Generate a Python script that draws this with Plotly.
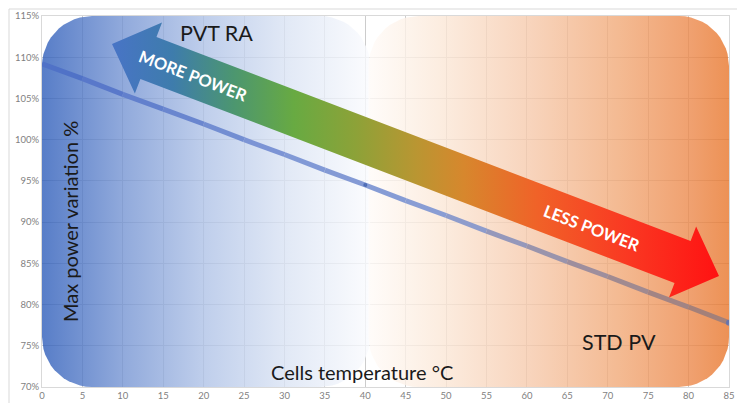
import numpy as np
import plotly.graph_objects as go

# ---------------- data ----------------
temps = [0, 5, 10, 15, 20, 25, 30, 35, 40, 45, 50, 55, 60, 65, 70, 75, 80, 85]
power = [109.2, 107.4, 105.5, 103.7, 101.9, 100.0, 98.2, 96.3, 94.5,
         92.6, 90.8, 88.9, 87.1, 85.2, 83.4, 81.5, 79.7, 77.8]
x_ticks = [0, 5, 10, 15, 20, 25, 30, 35, 40, 45, 50, 55, 60, 65, 70, 75, 80, 85]
y_ticks = [70, 75, 80, 85, 90, 95, 100, 105, 110, 115]
y_tick_labels = ["70%", "75%", "80%", "85%", "90%", "95%", "100%", "105%", "110%", "115%"]
marked_temps = [40, 85]

# ---------------- geometry helpers ----------------
W, H = 737, 403
ML, MR, MT, MB = 42, 8, 16, 16
X0, X1 = 0, 85
Y0, Y1 = 70, 115
PW, PH = W - ML - MR, H - MT - MB
SX = PW / (X1 - X0)
SY = PH / (Y1 - Y0)


def p2d(px, py):
    return X0 + (px - ML) / SX, Y1 - (py - MT) / SY


def rounded_rect(x0, x1, y0, y1, r_px=50, n=14):
    rx, ry = r_px / SX, r_px / SY
    xs, ys = [], []
    corners = [
        (x1 - rx, y0 + ry, -np.pi / 2, 0),      # bottom-right
        (x1 - rx, y1 - ry, 0, np.pi / 2),       # top-right
        (x0 + rx, y1 - ry, np.pi / 2, np.pi),   # top-left
        (x0 + rx, y0 + ry, np.pi, 1.5 * np.pi), # bottom-left
    ]
    for cx, cy, a0, a1 in corners:
        t = np.linspace(a0, a1, n)
        xs += list(cx + rx * np.cos(t))
        ys += list(cy + ry * np.sin(t))
    xs.append(xs[0]); ys.append(ys[0])
    return xs, ys


ALPHA = 0.8


def comp(rgb, a=ALPHA):
    c = [min(255, max(0, round((v - (1 - a) * 255) / a))) for v in rgb]
    return f"rgba({c[0]},{c[1]},{c[2]},{a})"


def lerp_color(stops, t):
    for (t0, c0), (t1, c1) in zip(stops[:-1], stops[1:]):
        if t0 <= t <= t1:
            f = (t - t0) / (t1 - t0) if t1 > t0 else 0
            return tuple(round(a + (b - a) * f) for a, b in zip(c0, c1))
    return stops[-1][1]


fig = go.Figure()

# ---------------- background panels ----------------
lx, ly = rounded_rect(0, 40.6, Y0, Y1)
fig.add_trace(go.Scatter(
    x=lx, y=ly, mode="lines", line=dict(width=0), fill="toself",
    fillgradient=dict(type="horizontal", colorscale=[
        [0.0, comp((88, 125, 200))],
        [0.25, comp((145, 170, 220))],
        [0.5, comp((192, 207, 236))],
        [0.75, comp((226, 233, 246))],
        [1.0, comp((251, 252, 254))],
    ]),
    hoverinfo="skip", showlegend=False))

rx_, ry_ = rounded_rect(40.4, 85, Y0, Y1)
fig.add_trace(go.Scatter(
    x=rx_, y=ry_, mode="lines", line=dict(width=0), fill="toself",
    fillgradient=dict(type="horizontal", colorscale=[
        [0.0, comp((255, 252, 249))],
        [0.2, comp((252, 237, 224))],
        [0.45, comp((248, 212, 188))],
        [0.7, comp((244, 185, 145))],
        [0.9, comp((240, 160, 110))],
        [1.0, comp((237, 145, 85))],
    ]),
    hoverinfo="skip", showlegend=False))

# ---------------- data line (colour shifts as in the overlayed original) ----------------
line_stops = [(0, (76, 110, 198)), (30, (128, 152, 214)), (50, (138, 158, 212)),
              (58, (150, 152, 185)), (70, (160, 140, 150)), (85, (165, 125, 115))]
for i in range(len(temps) - 1):
    tm = (temps[i] + temps[i + 1]) / 2
    c = lerp_color(line_stops, tm)
    fig.add_trace(go.Scatter(
        x=temps[i:i + 2], y=power[i:i + 2], mode="lines",
        line=dict(color=f"rgb{c}", width=5),
        hoverinfo="skip", showlegend=False))

fig.add_trace(go.Scatter(
    x=marked_temps, y=[power[temps.index(t)] for t in marked_temps],
    mode="markers", marker=dict(size=[4, 6], color=["#3559a8", "#4a6fc4"], line=dict(width=0)),
    showlegend=False, hoverinfo="skip"))

# ---------------- big gradient arrow ----------------
L = np.array([112.0, 44.0])
R = np.array([719.0, 276.0])
u = (R - L) / np.linalg.norm(R - L)
n = np.array([-u[1], u[0]])
hw, bw, hl = 22.5, 38.0, 39.0
pts = [
    L,
    L + hl * u - bw * n,
    L + hl * u - hw * n,
    R - hl * u - hw * n,
    R - hl * u - bw * n,
    R,
    R - hl * u + bw * n,
    R - hl * u + hw * n,
    L + hl * u + hw * n,
    L + hl * u + bw * n,
    L,
]
ax_ = [p2d(*p)[0] for p in pts]
ay_ = [p2d(*p)[1] for p in pts]
fig.add_trace(go.Scatter(
    x=ax_, y=ay_, mode="lines", line=dict(width=0), fill="toself",
    fillgradient=dict(type="horizontal", colorscale=[
        [0.0, "rgb(72,116,198)"],
        [0.1, "rgb(62,124,172)"],
        [0.2, "rgb(76,150,112)"],
        [0.3, "rgb(104,170,66)"],
        [0.4, "rgb(140,162,56)"],
        [0.5, "rgb(185,150,50)"],
        [0.58, "rgb(215,135,45)"],
        [0.7, "rgb(240,98,40)"],
        [0.85, "rgb(250,56,34)"],
        [1.0, "rgb(255,18,18)"],
    ]),
    hoverinfo="skip", showlegend=False))

# ---------------- text ----------------
FONT = "Lato, 'Open Sans', sans-serif"


def pp(px, py):
    return (px - ML) / PW, (H - MB - py) / PH


def ann(text, px, py, size, color="#1a1a1a", angle=0, bold=False):
    x, y = pp(px, py)
    fig.add_annotation(
        x=x, y=y, xref="paper", yref="paper", showarrow=False,
        text=f"<b>{text}</b>" if bold else text, textangle=angle,
        font=dict(family=FONT, size=size, color=color),
        xanchor="center", yanchor="middle")


ang = float(np.degrees(np.arctan2(R[1] - L[1], R[0] - L[0])))
ann("PVT RA", 216, 33, 21.5)
ann("STD PV", 619, 342, 21.5)
ann("Max power variation %", 70, 222, 20, angle=-90)
ann("Cells temperature °C", 362, 372, 20)
ann("MORE POWER", 193, 76, 16.5, color="white", angle=ang, bold=True)
ann("LESS POWER", 591, 228, 16.5, color="white", angle=ang, bold=True)

# outer chart border (top and left)
bx0, by0 = pp(9, 9)
bx1, _ = pp(737, 9)
_, byb = pp(9, 403)
fig.add_shape(type="line", xref="paper", yref="paper", x0=bx0, x1=bx1, y0=by0, y1=by0,
              line=dict(color="#d9d9d9", width=1))
fig.add_shape(type="line", xref="paper", yref="paper", x0=bx0, x1=bx0, y0=byb, y1=by0,
              line=dict(color="#d9d9d9", width=1))

fig.update_layout(
    width=W, height=H,
    margin=dict(l=ML, r=MR, t=MT, b=MB, pad=0, autoexpand=False),
    paper_bgcolor="white", plot_bgcolor="white",
    showlegend=False,
    xaxis=dict(range=[X0, X1], tickvals=x_ticks, showgrid=True, gridcolor="#cccccc",
               gridwidth=1, zeroline=False, showline=True, linecolor="#d9d9d9",
               mirror=True, ticks="", automargin=False,
               tickfont=dict(family=FONT, size=9.5, color="#7f7f7f")),
    yaxis=dict(range=[Y0, Y1], tickvals=y_ticks, ticktext=y_tick_labels, showgrid=True,
               gridcolor="#cccccc", gridwidth=1, zeroline=False, showline=True,
               linecolor="#d9d9d9", mirror=True, ticks="", automargin=False,
               tickfont=dict(family=FONT, size=9.5, color="#7f7f7f")),
)

fig.write_html(
    "out.html",
    config={"displayModeBar": False},
    post_script="document.body.style.margin='0';document.body.style.padding='0';"
                "document.documentElement.style.margin='0';",
)
